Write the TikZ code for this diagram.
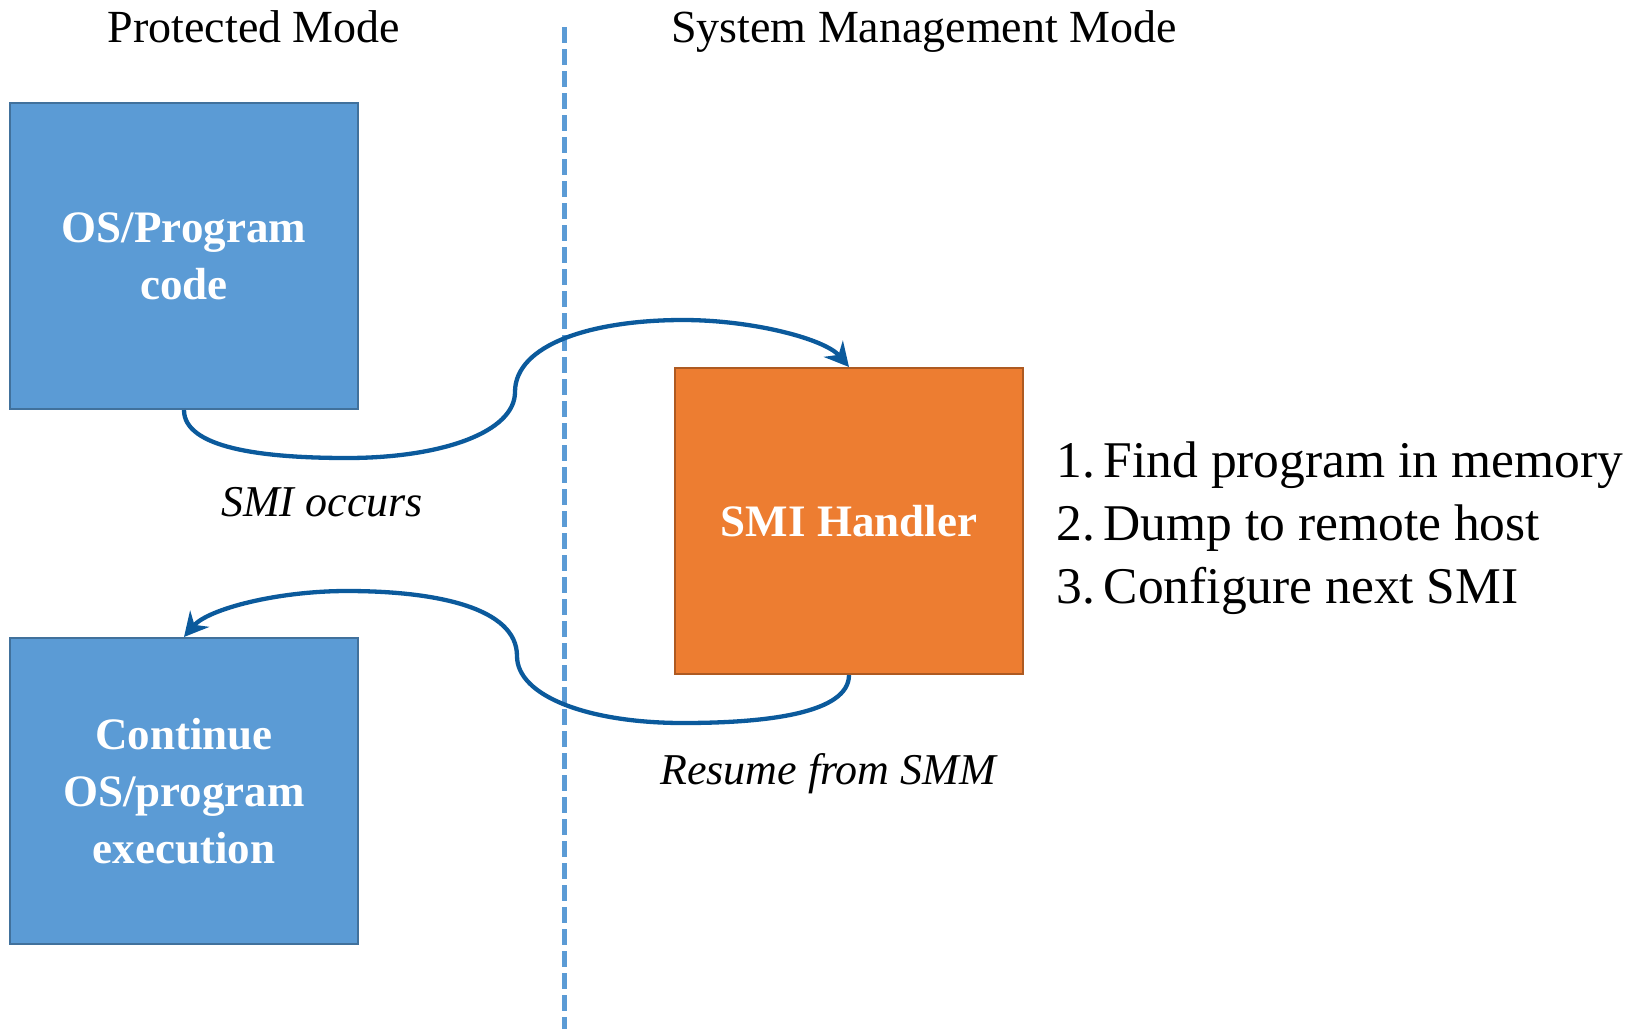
\documentclass[tikz,border=0pt]{standalone}
\usepackage{fontspec}
\setmainfont{Liberation Serif}
\usetikzlibrary{arrows.meta}
\definecolor{boxblue}{HTML}{5B9BD5}
\definecolor{boxblueline}{HTML}{41719C}
\definecolor{boxorange}{HTML}{ED7D31}
\definecolor{boxorangeline}{HTML}{AE5A21}
\definecolor{flow}{HTML}{0B5A9C}
\tikzset{
  modebox/.style={draw=#1line, fill=#1, line width=2pt, minimum width=348pt,
    minimum height=306pt, inner sep=0pt, text=white, align=center,
    font=\fontsize{45}{57}\selectfont\bfseries},
  flowline/.style={draw=flow, line width=4.3pt,
    -{Stealth[length=24pt,width=25pt,inset=8pt]}},
  title/.style={font=\fontsize{46}{50}\selectfont, anchor=base},
  note/.style={font=\fontsize{44}{50}\selectfont\itshape},
  steps/.style={font=\fontsize{51.5}{63}\selectfont, align=left, anchor=west}
}
\begin{document}
\begin{tikzpicture}[x=1pt,y=-1pt]
\useasboundingbox (0,0) rectangle (1647,1029);

% column headings and the divider between the two modes
\node[title] (pm) at (254,42) {Protected Mode};
\node[title] (smm) at (924,42) {System Management Mode};
\coordinate (divtop) at (564,27);
\coordinate (divbot) at (564,1029);
\draw[boxblue, line width=5pt, dash pattern=on 16pt off 6pt] (divtop) -- (divbot);

% boxes
\node[modebox=boxblue] (os) at (184,256) {OS/Program\\code};
\node[modebox=boxblue] (cont) at (184,791) {Continue\\OS/program\\execution};
\node[modebox=boxorange] (smi) at (849,521) {SMI Handler};

% handler steps
\node[steps] (list) at (1053,528) {1.\,Find program in memory\\2.\,Dump to remote host\\3.\,Configure next SMI};

% transitions
\coordinate (a1) at (347,458);
\coordinate (a2) at (515,392);
\coordinate (a3) at (683,320);
\draw[flowline] (os.south) .. controls +(0,38) and +(-85,0) .. (a1)
  .. controls +(95,0) and +(0,40) .. (a2)
  .. controls +(0,-48) and +(-90,0) .. (a3)
  .. controls +(70,0) and +(-24,-28) .. (smi.north);

\coordinate (b1) at (683,723);
\coordinate (b2) at (517,656);
\coordinate (b3) at (347,591);
\draw[flowline] (smi.south) .. controls +(0,38) and +(85,0) .. (b1)
  .. controls +(-95,0) and +(0,40) .. (b2)
  .. controls +(0,-48) and +(90,0) .. (b3)
  .. controls +(-70,0) and +(24,-28) .. (cont.north);

\node[note] (occ) at (322,502) {SMI occurs};
\node[note] (res) at (828,774) {Resume from SMM};
\end{tikzpicture}
\end{document}
